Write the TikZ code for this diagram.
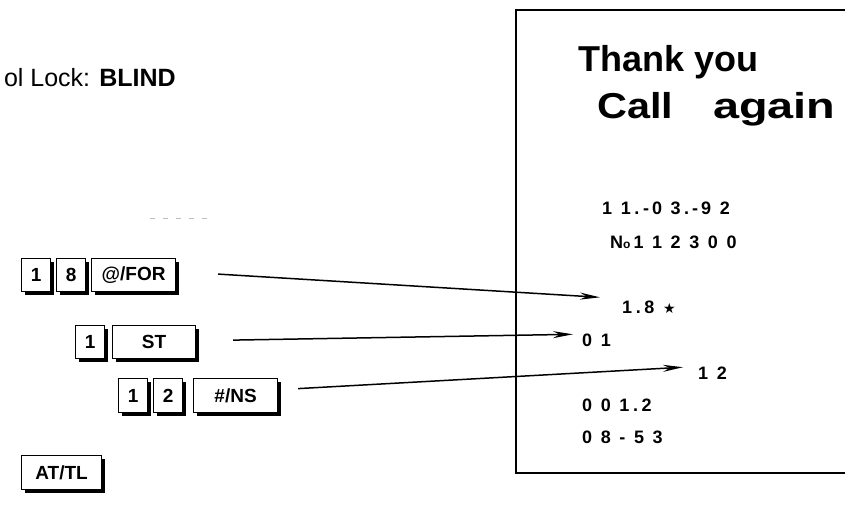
\documentclass[tikz,border=0pt]{standalone}
\usepackage{fontspec}
\setmainfont{Liberation Sans}
\newfontfamily\starfont{DejaVu Sans}
\newfontfamily\rcptfont[LetterSpace=20]{Liberation Sans}
\usetikzlibrary{arrows.meta,shadows}

\tikzset{
  keycap/.style={draw, line width=1.2pt, fill=white, inner sep=0pt,
    minimum height=33pt, minimum width=29pt, anchor=north west,
    font=\fontsize{19}{19}\selectfont\bfseries,
    drop shadow={shadow xshift=3.5pt, shadow yshift=-3.5pt, fill=black, opacity=1}},
  rcpt/.style={anchor=base west, inner sep=0pt, font=\fontsize{18}{18}\rcptfont\bfseries},
  hdr/.style={anchor=base west, inner sep=0pt, font=\fontsize{36}{36}\selectfont\bfseries},
}

\begin{document}
\begin{tikzpicture}[x=1pt, y=-1pt, >={Stealth[length=20pt,width=7pt]}]
  \useasboundingbox (0,0) rectangle (845,509);

  % Kopfzeile
  \node[anchor=base east, inner sep=0pt, font=\fontsize{25}{25}\selectfont] (lock) at (176,86) {ol Lock: \textbf{BLIND}};
  \draw[gray!50, line width=0.8pt, dash pattern=on 5pt off 8pt] (150,218) -- (208,218);

  % Tasten
  \node[keycap] (ka1) at (21,258) {1};
  \node[keycap] (ka8) at (56,258) {8};
  \node[keycap, minimum width=84pt] (kfor) at (91,258) {@/FOR};

  \node[keycap] (kb1) at (75,325) {1};
  \node[keycap, minimum width=83pt] (kst) at (112,325) {ST};

  \node[keycap, minimum height=34pt] (kc1) at (118,378) {1};
  \node[keycap, minimum height=34pt] (kc2) at (153,378) {2};
  \node[keycap, minimum height=34pt, minimum width=84pt] (kns) at (193,378) {\#/NS};

  \node[keycap, minimum height=34pt, minimum width=80pt] (katl) at (21,455) {AT/TL};

  % Bon
  \draw[line width=2pt] (850,10) -- (516,10) -- (516,473) -- (850,473);
  \node[hdr] (thank) at (578,71) {Thank you};
  \node[hdr] (again) at (597,118) {\scalebox{1.15}[1]{Call}\hspace{40pt}\scalebox{1.3}[1]{again}};

  \node[rcpt] (date) at (602,214.5) {1 1.-\,0 3.\,-\,9 2};
  \node[rcpt] (num) at (610,248.5) {N{\fontsize{12}{12}\selectfont o}\,1 1 2 3 0 0};
  \node[rcpt] (r18) at (622,313.5) {1.8 {\starfont\fontsize{14}{14}\selectfont ★}};
  \node[rcpt] (r01) at (582,346.5) {0 1};
  \node[rcpt] (r12) at (698,379.5) {1 2};
  \node[rcpt] (rsum) at (582,411.5) {0 0 1.2};
  \node[rcpt] (rtime) at (582,443.5) {0 8 - 5 3};

  % Pfeile
  \draw[->, line width=1.5pt] ([xshift=42pt,yshift=1pt]kfor.east) -- ([xshift=-22pt,yshift=10pt]r18.west);
  \draw[->, line width=1.5pt] ([xshift=37pt,yshift=2pt]kst.east) -- ([xshift=-9pt,yshift=6pt]r01.west);
  \draw[->, line width=1.5pt] ([xshift=20pt,yshift=7pt]kns.east) -- ([xshift=-15pt,yshift=6pt]r12.west);
\end{tikzpicture}
\end{document}
